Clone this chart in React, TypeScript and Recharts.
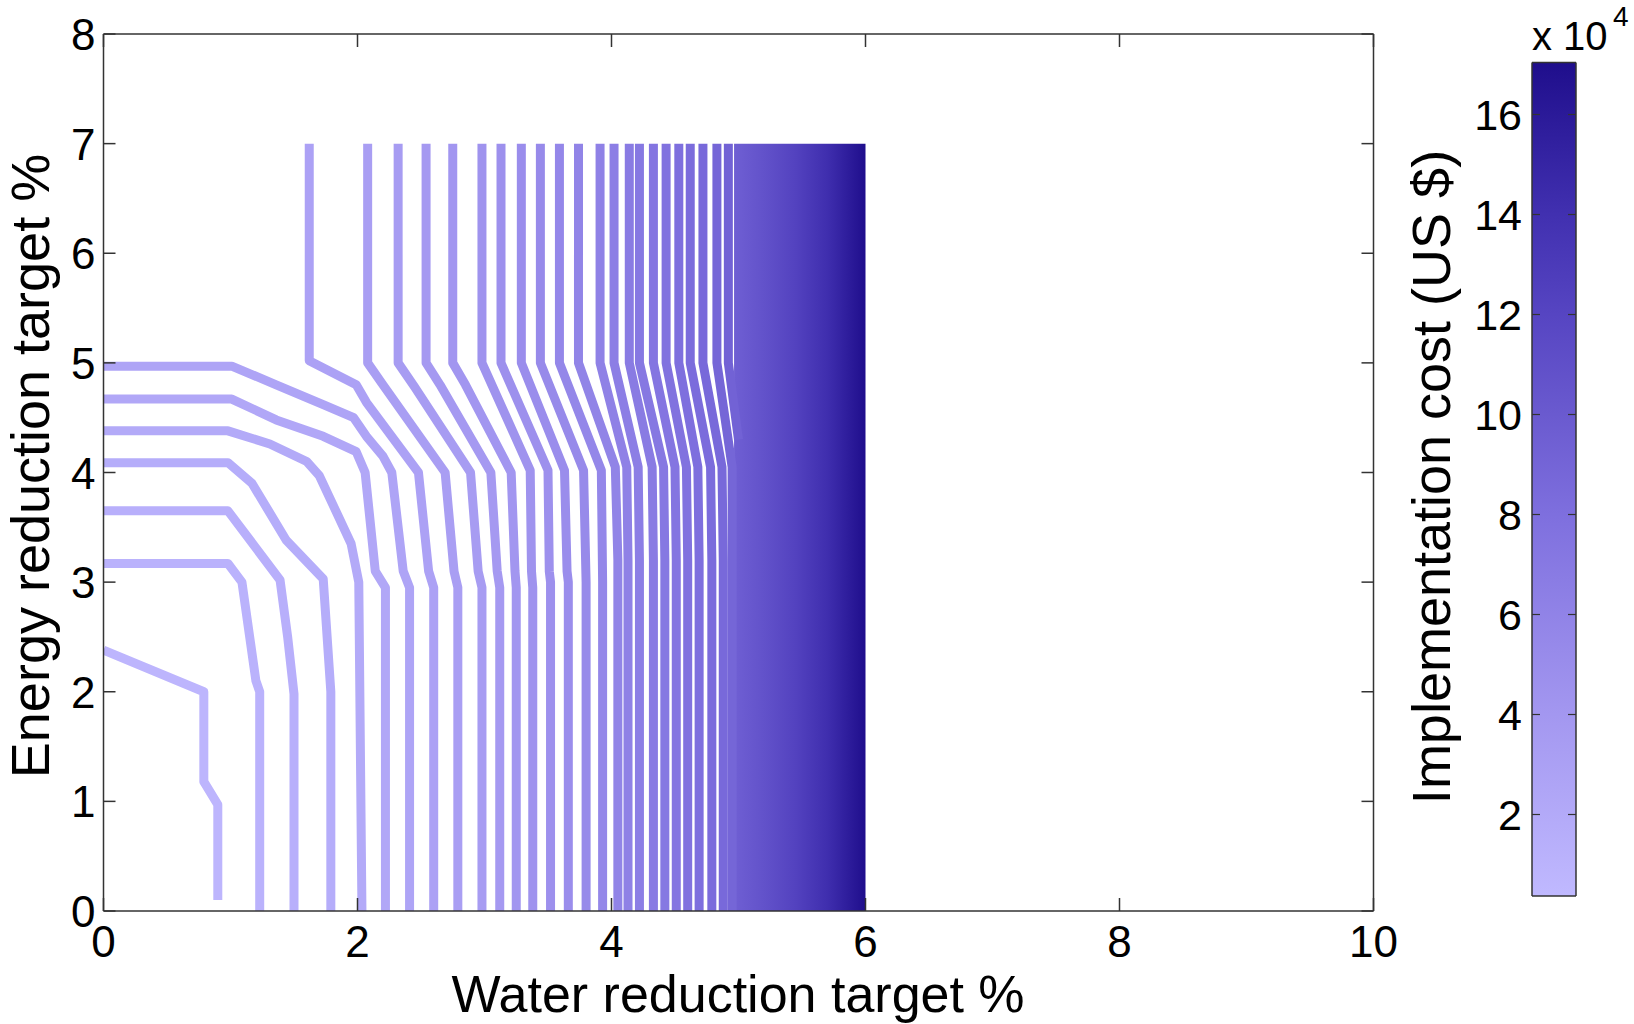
import React from 'react';
import { ComposedChart, Line, Area, XAxis, YAxis } from 'recharts';

const xTicks = [0, 2, 4, 6, 8, 10];
const yTicks = [0, 1, 2, 3, 4, 5, 6, 7, 8];
const costTicks = [2, 4, 6, 8, 10, 12, 14, 16];
const costRange: [number, number] = [0.37, 17.04];

// colour map (cost in 1e4 US$)
const cmapCost = [0.37, 4, 8, 10, 12, 14, 17.04];
const cmapColor = ['#c0b9ff', '#a397f0', '#7e6fde', '#6a5acf', '#5645c2', '#4130b0', '#1f0e8c'];

// contour level of each line (1e4 US$)
const contourLevels = [
  0.8, 1.1, 1.4, 1.7, 2.0, 2.3, 2.6, 2.9, 3.2, 3.5, 3.8, 4.1, 4.4, 4.7, 5.0,
  5.3, 5.6, 5.9, 6.2, 6.5, 6.8, 7.1, 7.4, 7.7, 8.0, 8.3, 8.6, 8.9, 9.2,
];

// contour lines, [water %, energy %]
const contourPaths: [number, number][][] = [
  [[0, 2.38], [0.79, 2.0], [0.79, 1.18], [0.9, 0.97], [0.9, 0.1]],
  [[0, 3.17], [0.98, 3.17], [1.09, 3.0], [1.2, 2.1], [1.23, 2.0], [1.23, 0]],
  [[0, 3.65], [0.98, 3.65], [1.39, 3.02], [1.45, 2.5], [1.5, 1.98], [1.5, 0]],
  [[0, 4.09], [0.98, 4.09], [1.17, 3.9], [1.44, 3.38], [1.73, 3.03], [1.79, 2.0], [1.79, 0]],
  [[0, 4.38], [0.98, 4.38], [1.31, 4.26], [1.6, 4.1], [1.7, 3.97], [1.95, 3.35], [2.01, 3.0], [2.035, 0]],
  [[0, 4.67], [1.01, 4.67], [1.36, 4.48], [1.73, 4.33], [1.99, 4.19], [2.06, 4.0], [2.14, 3.1], [2.22, 2.95], [2.22, 0]],
  [[0, 4.97], [1.01, 4.97], [1.36, 4.8], [1.73, 4.62], [1.97, 4.5], [2.07, 4.33], [2.2, 4.15], [2.27, 4.0], [2.36, 3.1], [2.41, 2.95], [2.41, 0]],
  [[1.62, 7], [1.62, 5.02], [1.99, 4.8], [2.07, 4.64], [2.48, 4.0], [2.56, 3.1], [2.6, 2.95], [2.6, 0]],
  [[2.08, 7], [2.08, 5.0], [2.2, 4.8], [2.69, 4.0], [2.76, 3.1], [2.79, 2.95], [2.79, 0]],
  [[2.32, 7], [2.32, 5.0], [2.45, 4.78], [2.89, 4.0], [2.95, 3.1], [2.98, 2.95], [2.98, 0]],
  [[2.54, 7], [2.54, 5.0], [2.65, 4.8], [3.05, 4.0], [3.1, 3.1], [3.12, 2.95], [3.12, 0]],
  [[2.75, 7], [2.75, 5.0], [2.85, 4.8], [3.21, 4.0], [3.24, 3.1], [3.25, 2.95], [3.25, 0]],
  [[2.98, 7], [2.98, 5.0], [3.36, 4.02], [3.37, 3.1], [3.38, 2.95], [3.38, 0]],
  [[3.13, 7], [3.13, 5.0], [3.5, 4.02], [3.51, 3.1], [3.52, 3.0], [3.52, 0]],
  [[3.29, 7], [3.29, 5.0], [3.63, 4.02], [3.65, 3.1], [3.66, 3.0], [3.66, 0]],
  [[3.44, 7], [3.44, 5.0], [3.78, 4.02], [3.8, 3.0], [3.8, 0]],
  [[3.59, 7], [3.59, 5.0], [3.92, 4.02], [3.93, 3.0], [3.93, 0]],
  [[3.74, 7], [3.74, 5.0], [4.03, 4.05], [4.05, 3.2], [4.05, 0]],
  [[3.91, 7], [3.91, 5.0], [4.12, 4.05], [4.13, 3.2], [4.13, 0]],
  [[4.02, 7], [4.02, 5.0], [4.21, 4.05], [4.22, 3.2], [4.22, 0]],
  [[4.14, 7], [4.14, 5.0], [4.32, 4.05], [4.33, 3.2], [4.33, 0]],
  [[4.22, 7], [4.22, 5.0], [4.41, 4.05], [4.42, 3.2], [4.42, 0]],
  [[4.33, 7], [4.33, 5.0], [4.5, 4.05], [4.51, 3.2], [4.51, 0]],
  [[4.43, 7], [4.43, 5.0], [4.59, 4.05], [4.6, 3.2], [4.6, 0]],
  [[4.53, 7], [4.53, 5.0], [4.68, 4.05], [4.69, 3.2], [4.69, 0]],
  [[4.62, 7], [4.62, 5.0], [4.78, 4.05], [4.79, 3.2], [4.79, 0]],
  [[4.72, 7], [4.72, 5.0], [4.87, 4.05], [4.88, 3.2], [4.88, 0]],
  [[4.83, 7], [4.83, 5.0], [4.95, 4.05], [4.95, 0]],
  [[4.92, 7], [4.92, 5.0], [5.0, 4.3]],
];

// the dense band between 5 and 6 %, where the levels merge into a solid fill
const denseX = [4.965, 5.2, 5.45, 5.7, 5.85, 6.0];
const denseCost = [9.5, 10.8, 12.3, 14.2, 15.6, 17.0];
const denseTop = 7;

const W = 1634;
const H = 1024;
const AX = '#333';
const FONT = '"Liberation Sans", Arial, sans-serif';

function hexToRgb(h: string) {
  const n = parseInt(h.slice(1), 16);
  return [(n >> 16) & 255, (n >> 8) & 255, n & 255];
}

function costColor(c: number) {
  let i = 0;
  while (i < cmapCost.length - 2 && c > cmapCost[i + 1]) i++;
  const t = Math.max(0, Math.min(1, (c - cmapCost[i]) / (cmapCost[i + 1] - cmapCost[i])));
  const a = hexToRgb(cmapColor[i]);
  const b = hexToRgb(cmapColor[i + 1]);
  const m = a.map((v, k) => Math.round(v + (b[k] - v) * t));
  return `rgb(${m[0]},${m[1]},${m[2]})`;
}

const tickText = { fontFamily: FONT, fontSize: 44, fill: '#000' };

// axes are 1px thick, so the tick anchor sits on the axis line
const BottomTick = ({ x, y, payload }: any) => (
  <g>
    <line x1={x} x2={x} y1={y} y2={y - 13} stroke={AX} strokeWidth={1.5} />
    <text x={x} y={y + 46} textAnchor="middle" {...tickText}>{payload.value}</text>
  </g>
);
const TopTick = ({ x, y }: any) => <line x1={x} x2={x} y1={y} y2={y + 13} stroke={AX} strokeWidth={1.5} />;
const LeftTick = ({ x, y, payload }: any) => (
  <g>
    <line x1={x} x2={x + 12} y1={y} y2={y} stroke={AX} strokeWidth={1.5} />
    <text x={x - 8} y={y + 16} textAnchor="end" {...tickText}>{payload.value}</text>
  </g>
);
const RightTick = ({ x, y }: any) => <line x1={x} x2={x - 12} y1={y} y2={y} stroke={AX} strokeWidth={1.5} />;

const CbLeftTick = ({ x, y, payload }: any) => (
  <g>
    <line x1={x} x2={x + 8} y1={y} y2={y} stroke={AX} strokeWidth={1.2} />
    <text x={x - 10} y={y + 15} textAnchor="end" {...tickText} fontSize={43}>{payload.value}</text>
  </g>
);
const CbRightTick = ({ x, y }: any) => <line x1={x} x2={x - 8} y1={y} y2={y} stroke={AX} strokeWidth={1.2} />;

const axisLine = { stroke: AX, strokeWidth: 1.5 };

// main plot box: x 103.5..1373.5, y 34..911
const PL = 103.5, PR = 1373.5, PT = 34, PB = 911;
// colour bar box (page coords): x 1532..1576, y 62.5..896
const CBX = 1400, CL = 1532, CR = 1576, CT = 62.5, CB = 896;

export default function App() {
  const dense = denseX.map(x => ({ x, y: denseTop }));
  const cbBar = [{ x: 0, y: costRange[1] }, { x: 1, y: costRange[1] }];
  const d0 = denseX[0];
  const d1 = denseX[denseX.length - 1];

  return (
    <div style={{ position: 'relative', width: W, height: H, background: '#fff', overflow: 'hidden', fontFamily: FONT }}>
      <style>{'body{margin:0}'}</style>

      <div style={{ position: 'absolute', left: 0, top: 0 }}>
        <ComposedChart width={W} height={H} margin={{ top: PT - 1, right: W - PR - 1, bottom: H - PB - 1, left: PL - 1 }}>
          <defs>
            <linearGradient id="denseGrad" x1="0" y1="0" x2="1" y2="0">
              {denseX.map((x, i) => (
                <stop key={i} offset={(x - d0) / (d1 - d0)} stopColor={costColor(denseCost[i])} />
              ))}
            </linearGradient>
          </defs>
          <XAxis xAxisId="b" type="number" dataKey="x" domain={[0, 10]} ticks={xTicks} interval={0}
            height={1} tickSize={0} tickMargin={0} tickLine={false} axisLine={axisLine} tick={BottomTick} allowDataOverflow />
          <XAxis xAxisId="t" orientation="top" type="number" dataKey="x" domain={[0, 10]} ticks={xTicks} interval={0}
            height={1} tickSize={0} tickMargin={0} tickLine={false} axisLine={axisLine} tick={TopTick} allowDataOverflow />
          <YAxis yAxisId="l" type="number" dataKey="y" domain={[0, 8]} ticks={yTicks} interval={0}
            width={1} tickSize={0} tickMargin={0} tickLine={false} axisLine={axisLine} tick={LeftTick} allowDataOverflow />
          <YAxis yAxisId="r" orientation="right" type="number" dataKey="y" domain={[0, 8]} ticks={yTicks} interval={0}
            width={1} tickSize={0} tickMargin={0} tickLine={false} axisLine={axisLine} tick={RightTick} allowDataOverflow />

          <Area xAxisId="b" yAxisId="l" data={dense} dataKey="y" type="linear" baseValue={0}
            fill="url(#denseGrad)" fillOpacity={1} stroke="none" isAnimationActive={false} dot={false} activeDot={false} />

          {contourPaths.map((pts, i) => (
            <Line
              key={i}
              xAxisId="b"
              yAxisId="l"
              data={pts.map(([x, y]) => ({ x, y }))}
              dataKey="y"
              type="linear"
              stroke={costColor(contourLevels[i])}
              strokeWidth={9}
              strokeLinejoin="round"
              strokeLinecap="butt"
              dot={false}
              activeDot={false}
              isAnimationActive={false}
            />
          ))}
        </ComposedChart>
      </div>

      <div style={{ position: 'absolute', left: CBX, top: 0 }}>
        <ComposedChart width={W - CBX} height={H} margin={{ top: CT - 1, right: W - CR - 1, bottom: H - CB - 1, left: CL - CBX - 1 }}>
          <defs>
            <linearGradient id="cbGrad" x1="0" y1="1" x2="0" y2="0">
              {cmapCost.map((c, i) => (
                <stop key={i} offset={(c - costRange[0]) / (costRange[1] - costRange[0])} stopColor={cmapColor[i]} />
              ))}
            </linearGradient>
          </defs>
          <XAxis xAxisId="b" type="number" dataKey="x" domain={[0, 1]} height={1} tick={false} tickLine={false} axisLine={axisLine} />
          <XAxis xAxisId="t" orientation="top" type="number" dataKey="x" domain={[0, 1]} height={1} tick={false} tickLine={false} axisLine={axisLine} />
          <YAxis yAxisId="l" type="number" dataKey="y" domain={costRange} ticks={costTicks} interval={0}
            width={1} tickSize={0} tickMargin={0} tickLine={false} axisLine={axisLine} tick={CbLeftTick} allowDataOverflow />
          <YAxis yAxisId="r" orientation="right" type="number" dataKey="y" domain={costRange} ticks={costTicks} interval={0}
            width={1} tickSize={0} tickMargin={0} tickLine={false} axisLine={axisLine} tick={CbRightTick} allowDataOverflow />
          <Area xAxisId="b" yAxisId="l" data={cbBar} dataKey="y" type="linear" baseValue={costRange[0]}
            fill="url(#cbGrad)" fillOpacity={1} stroke="none" isAnimationActive={false} dot={false} activeDot={false} />
        </ComposedChart>
      </div>

      <div style={{ position: 'absolute', left: 238, top: 968, width: 1000, textAlign: 'center', fontSize: 52, lineHeight: '52px', whiteSpace: 'nowrap' }}>
        Water reduction target %
      </div>
      <div style={{ position: 'absolute', left: 30 - 400, top: 466 - 27, width: 800, height: 54, textAlign: 'center', fontSize: 54, lineHeight: '54px', whiteSpace: 'nowrap', transform: 'rotate(-90deg)' }}>
        Energy reduction target %
      </div>
      <div style={{ position: 'absolute', left: 1431 - 400, top: 477 - 27, width: 800, height: 54, textAlign: 'center', fontSize: 54, lineHeight: '54px', whiteSpace: 'nowrap', transform: 'rotate(-90deg)' }}>
        Implementation cost (US $)
      </div>
      <div style={{ position: 'absolute', left: 1532, top: 16, fontSize: 40, lineHeight: '40px', whiteSpace: 'nowrap' }}>x 10</div>
      <div style={{ position: 'absolute', left: 1613, top: 3, fontSize: 28, lineHeight: '28px' }}>4</div>
    </div>
  );
}
